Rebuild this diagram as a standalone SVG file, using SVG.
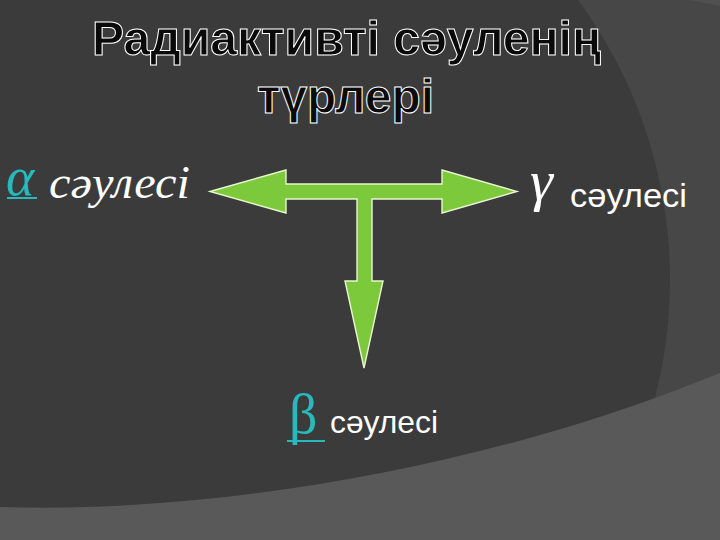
<svg xmlns="http://www.w3.org/2000/svg" width="720" height="540" viewBox="0 0 720 540">
  <style>
    .title { font-family: "Liberation Sans", Arial, sans-serif; font-weight: bold; font-size: 48px; text-anchor: middle; fill: #0a0a0a; stroke: #ffffff; stroke-width: 1; }
    .serif { font-family: "Liberation Serif", "Times New Roman", serif; }
    .sans { font-family: "Liberation Sans", Arial, sans-serif; }
    .white { fill: #ffffff; }
    .cyan { fill: #27b9bb; }
    .uline { stroke: #27b9bb; stroke-width: 2; }
    .arrow { fill: #7cc93c; stroke: #eaf6cf; stroke-width: 1.4; stroke-linejoin: miter; }
  </style>

  <!-- background -->
  <g id="background">
    <rect x="0" y="0" width="720" height="540" fill="#474747"/>
    <path d="M690,0 L720,0 L720,6 Q705,3 690,0 Z" fill="#505050"/>
    <circle cx="198" cy="280" r="472" fill="#3b3b3b"/>
    <path d="M0,507 C200,514 480,472 720,373 L720,540 L0,540 Z" fill="#595959"/>
  </g>

  <!-- title -->
  <g id="title">
    <text class="title" x="346.5" y="55" textLength="509" lengthAdjust="spacingAndGlyphs">Радиактивті сәуленің</text>
    <text class="title" x="345.5" y="113" textLength="177" lengthAdjust="spacingAndGlyphs">түрлері</text>
  </g>

  <!-- connectors: T-shaped arrow -->
  <g id="connectors">
    <path class="arrow" d="M210,191.5 L286,170 L286,184 L442,184 L442,170 L517,191.5 L442,213 L442,199 L372,199 L372,281 L383,281 L364,368 L345,281 L357,281 L357,199 L286,199 L286,213 Z"/>
  </g>

  <!-- alpha label -->
  <g id="alpha-label">
    <text class="serif cyan" x="6" y="195" font-size="54" font-style="italic">α</text>
    <line class="uline" x1="7" y1="198" x2="37" y2="198"/>
    <text class="serif white" x="49" y="198" font-size="46" font-style="italic" textLength="141" lengthAdjust="spacingAndGlyphs">сәулесі</text>
  </g>

  <!-- gamma label -->
  <g id="gamma-label">
    <text class="serif white" x="530" y="200" font-size="58" font-style="italic">γ</text>
    <text class="sans white" x="570" y="207" font-size="34" textLength="117" lengthAdjust="spacingAndGlyphs">сәулесі</text>
  </g>

  <!-- beta label -->
  <g id="beta-label">
    <text class="serif cyan" x="289" y="433" font-size="56">β</text>
    <line class="uline" x1="287" y1="441" x2="325" y2="441"/>
    <text class="sans white" x="330" y="433" font-size="32" textLength="108" lengthAdjust="spacingAndGlyphs">сәулесі</text>
  </g>
</svg>
